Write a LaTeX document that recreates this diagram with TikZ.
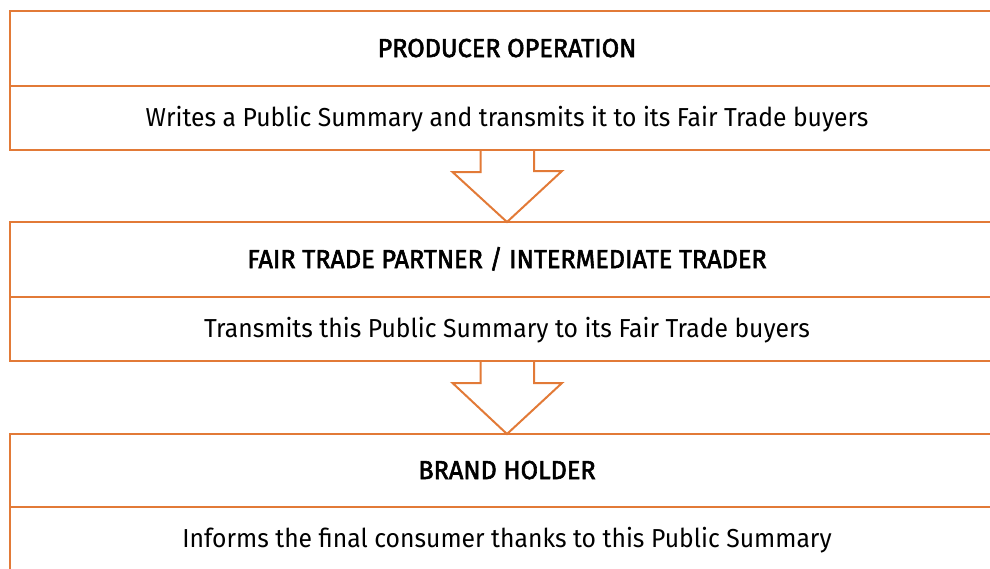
\documentclass[tikz,border=0pt]{standalone}
\usepackage{fontspec}
\setmainfont{Fira Sans}[FakeStretch=0.95]
\newfontfamily\headfont{Fira Sans}[FakeStretch=0.97,FakeBold=2.2]
\usetikzlibrary{positioning}
\usetikzlibrary{calc}

\definecolor{boxorange}{RGB}{226,122,55}

\begin{document}
\begin{tikzpicture}[x=1pt, y=1pt,
  part/.style={draw=boxorange, line width=2pt, outer sep=0pt, inner sep=0pt,
    minimum width=994pt, text height=20pt, text depth=3pt},
  headbox/.style={part, minimum height=75pt, font=\headfont\fontsize{26}{30}\selectfont},
  textbox/.style={part, minimum height=64pt, font=\fontsize{26}{30}\selectfont},
  blockarrow/.style={draw=boxorange, line width=2pt, line join=miter}]
 \clip (0,0) rectangle (990,-568);

 \node[headbox, anchor=north west] (producer) at (10,-11) {PRODUCER OPERATION};
 \node[textbox, below=0pt of producer] (producertxt)
   {Writes a Public Summary and transmits it to its Fair Trade buyers};

 \node[headbox, below=72pt of producertxt] (partner) {FAIR TRADE PARTNER / INTERMEDIATE TRADER};
 \node[textbox, below=0pt of partner] (partnertxt)
   {Transmits this Public Summary to its Fair Trade buyers};

 \node[headbox, minimum height=73pt, below=73pt of partnertxt] (brand) {BRAND HOLDER};
 \node[textbox, below=0pt of brand] (brandtxt)
   {Informs the final consumer thanks to this Public Summary};

 % hollow arrows between the boxes
 \draw[blockarrow] ($(producertxt.south)+(-26.5,0)$) -- ++(0,-22) -- ++(-28,0)
   -- (partner.north) -- ++(55,51) -- ++(-28,0) -- ++(0,22);
 \draw[blockarrow] ($(partnertxt.south)+(-26.5,0)$) -- ++(0,-22) -- ++(-28,0)
   -- (brand.north) -- ++(55,51) -- ++(-28,0) -- ++(0,22);
\end{tikzpicture}
\end{document}
